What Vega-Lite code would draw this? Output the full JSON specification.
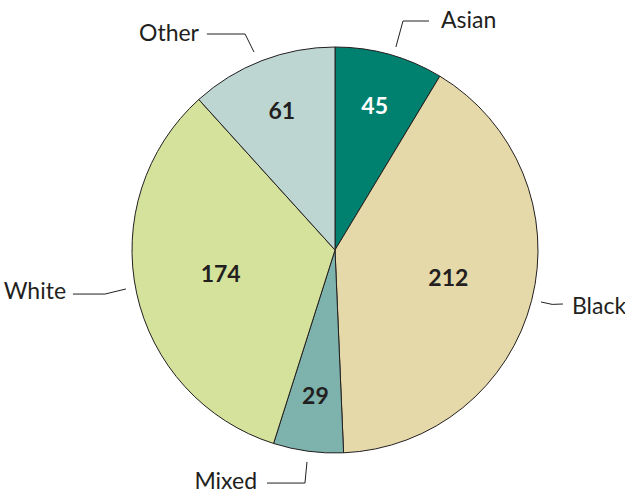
{
  "$schema": "https://vega.github.io/schema/vega-lite/v6.json",
  "width": 580,
  "height": 492,
  "autosize": "none",
  "padding": {"left": 45, "top": 4, "right": 0, "bottom": 0},
  "background": "white",
  "config": {"view": {"stroke": null}},
  "datasets": {
    "groups": [
      {"category": "Asian", "value": 45, "idx": 1},
      {"category": "Black", "value": 212, "idx": 2},
      {"category": "Mixed", "value": 29, "idx": 3},
      {"category": "White", "value": 174, "idx": 4},
      {"category": "Other", "value": 61, "idx": 5}
    ],
    "leaders": [
      {"category": "Asian", "seq": 1, "lx": 0.300, "ly": 1.000},
      {"category": "Asian", "seq": 2, "lx": 0.335, "ly": 1.128},
      {"category": "Asian", "seq": 3, "lx": 0.463, "ly": 1.128},
      {"category": "Other", "seq": 1, "lx": -0.631, "ly": 1.064},
      {"category": "Other", "seq": 2, "lx": -0.443, "ly": 1.064},
      {"category": "Other", "seq": 3, "lx": -0.399, "ly": 0.975},
      {"category": "White", "seq": 1, "lx": -1.291, "ly": -0.217},
      {"category": "White", "seq": 2, "lx": -1.133, "ly": -0.217},
      {"category": "White", "seq": 3, "lx": -1.030, "ly": -0.192},
      {"category": "Black", "seq": 1, "lx": 1.015, "ly": -0.256},
      {"category": "Black", "seq": 2, "lx": 1.070, "ly": -0.268},
      {"category": "Black", "seq": 3, "lx": 1.123, "ly": -0.266},
      {"category": "Mixed", "seq": 1, "lx": -0.335, "ly": -1.148},
      {"category": "Mixed", "seq": 2, "lx": -0.148, "ly": -1.148},
      {"category": "Mixed", "seq": 3, "lx": -0.138, "ly": -1.044}
    ],
    "labels": [
      {"category": "Asian", "side": "right", "lx": 0.522, "ly": 1.128},
      {"category": "Black", "side": "right", "lx": 1.167, "ly": -0.281},
      {"category": "Other", "side": "left", "lx": -0.670, "ly": 1.064},
      {"category": "White", "side": "left", "lx": -1.325, "ly": -0.207},
      {"category": "Mixed", "side": "left", "lx": -0.384, "ly": -1.143}
    ]
  },
  "layer": [
    {
      "data": {"name": "groups"},
      "mark": {"type": "arc", "outerRadius": 203, "stroke": "#231F20", "strokeWidth": 1},
      "encoding": {
        "theta": {"field": "value", "type": "quantitative", "stack": true},
        "order": {"field": "idx", "type": "quantitative"},
        "color": {
          "field": "category",
          "type": "nominal",
          "scale": {
            "domain": ["Asian", "Black", "Mixed", "White", "Other"],
            "range": ["#00806F", "#E6D9A9", "#7DB3AC", "#D4E29B", "#BDD6D2"]
          },
          "legend": null
        }
      }
    },
    {
      "data": {"name": "groups"},
      "mark": {"type": "text", "font": "Lato", "fontWeight": "bold", "fontSize": 23, "baseline": "middle", "align": "center", "radius": {"expr": "datum.value < 100 ? 148 : 117"}},
      "encoding": {
        "theta": {"field": "value", "type": "quantitative", "stack": true},
        "order": {"field": "idx", "type": "quantitative"},
        "text": {"field": "value", "type": "quantitative"},
        "color": {"condition": {"test": "datum.category === 'Asian'", "value": "#FFFFFF"}, "value": "#231F20"}
      }
    },
    {
      "data": {"name": "leaders"},
      "mark": {"type": "line", "stroke": "#231F20", "strokeWidth": 1},
      "encoding": {
        "x": {"field": "lx", "type": "quantitative", "scale": {"domain": [-1.4286, 1.4286], "nice": false, "zero": false}, "axis": null},
        "y": {"field": "ly", "type": "quantitative", "scale": {"domain": [-1.2118, 1.2118], "nice": false, "zero": false}, "axis": null},
        "detail": {"field": "category", "type": "nominal"},
        "order": {"field": "seq", "type": "quantitative"}
      }
    },
    {
      "data": {"name": "labels"},
      "transform": [{"filter": "datum.side === 'right'"}],
      "mark": {"type": "text", "font": "Lato", "fontSize": 23, "align": "left", "baseline": "middle", "color": "#231F20"},
      "encoding": {
        "x": {"field": "lx", "type": "quantitative", "scale": {"domain": [-1.4286, 1.4286], "nice": false, "zero": false}, "axis": null},
        "y": {"field": "ly", "type": "quantitative", "scale": {"domain": [-1.2118, 1.2118], "nice": false, "zero": false}, "axis": null},
        "text": {"field": "category", "type": "nominal"}
      }
    },
    {
      "data": {"name": "labels"},
      "transform": [{"filter": "datum.side === 'left'"}],
      "mark": {"type": "text", "font": "Lato", "fontSize": 23, "align": "right", "baseline": "middle", "color": "#231F20"},
      "encoding": {
        "x": {"field": "lx", "type": "quantitative", "scale": {"domain": [-1.4286, 1.4286], "nice": false, "zero": false}, "axis": null},
        "y": {"field": "ly", "type": "quantitative", "scale": {"domain": [-1.2118, 1.2118], "nice": false, "zero": false}, "axis": null},
        "text": {"field": "category", "type": "nominal"}
      }
    }
  ]
}
